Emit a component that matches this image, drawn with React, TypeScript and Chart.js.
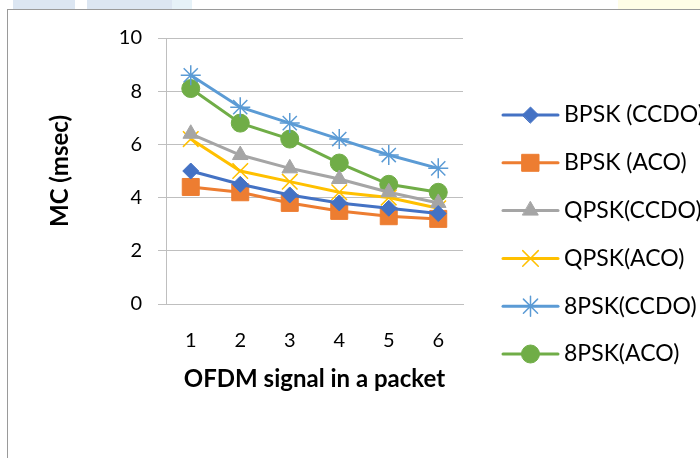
import React, { useEffect, useRef } from 'react';
import { Chart, registerables } from 'chart.js';
import { drawPoint } from 'chart.js/helpers';

Chart.register(...registerables);

const categories = ['1', '2', '3', '4', '5', '6'];
const seriesNames = ['BPSK (CCDO)', 'BPSK (ACO)', 'QPSK(CCDO)', 'QPSK(ACO)', '8PSK(CCDO)', '8PSK(ACO)'];
const bpskCcdo = [5.0, 4.5, 4.1, 3.8, 3.6, 3.4];
const bpskAco = [4.4, 4.2, 3.8, 3.5, 3.3, 3.2];
const qpskCcdo = [6.4, 5.6, 5.1, 4.7, 4.2, 3.8];
const qpskAco = [6.2, 5.0, 4.6, 4.2, 4.0, 3.6];
const psk8Ccdo = [8.6, 7.4, 6.8, 6.2, 5.6, 5.1];
const psk8Aco = [8.1, 6.8, 6.2, 5.3, 4.5, 4.2];
const yMin = 0;
const yMax = 10;
const yStep = 2;

const FONT = 'Lato, Carlito, Calibri, "Noto Sans", sans-serif';

const styles = [
  { color: '#4472C4', pointStyle: 'rectRot', radius: 8, bw: 1 },
  { color: '#ED7D31', pointStyle: 'rect', radius: 12, bw: 1 },
  { color: '#A5A5A5', pointStyle: 'triangle', radius: 9, bw: 1 },
  { color: '#FFC000', pointStyle: 'crossRot', radius: 11, bw: 1.5 },
  { color: '#5B9BD5', pointStyle: 'star', radius: 10, bw: 1.5 },
  { color: '#70AD47', pointStyle: 'circle', radius: 9, bw: 1 },
];

const seriesValues = [bpskCcdo, bpskAco, qpskCcdo, qpskAco, psk8Ccdo, psk8Aco];

const sideLegend = {
  id: 'sideLegend',
  afterDraw(chart: any) {
    const ctx = chart.ctx;
    const x0 = 503;
    const x1 = 558;
    const top = 115;
    const gap = 47.8;
    chart.data.datasets.forEach((ds: any, i: number) => {
      const y = top + i * gap;
      const st = styles[i];
      ctx.save();
      ctx.strokeStyle = st.color;
      ctx.lineWidth = 3;
      ctx.lineCap = 'round';
      ctx.beginPath();
      ctx.moveTo(x0, y);
      ctx.lineTo(x1, y);
      ctx.stroke();
      ctx.fillStyle = st.color;
      ctx.strokeStyle = st.color;
      ctx.lineWidth = st.bw;
      drawPoint(ctx, { pointStyle: st.pointStyle, radius: st.radius, rotation: 0, borderWidth: st.bw } as any, (x0 + x1) / 2, y);
      ctx.fillStyle = '#000';
      ctx.font = `23px ${FONT}`;
      ctx.textBaseline = 'middle';
      ctx.textAlign = 'left';
      ctx.fillText(ds.label, x1 + 6, y);
      ctx.restore();
    });
  },
};

export default function App() {
  const ref = useRef<HTMLCanvasElement | null>(null);

  useEffect(() => {
    if (!ref.current) return;
    const chart = new Chart(ref.current, {
      type: 'line',
      data: {
        labels: categories,
        datasets: seriesValues.map((vals, i) => ({
          label: seriesNames[i],
          data: vals,
          borderColor: styles[i].color,
          backgroundColor: styles[i].color,
          borderWidth: 3,
          pointStyle: styles[i].pointStyle as any,
          pointRadius: styles[i].radius,
          pointBorderWidth: styles[i].bw,
          pointBackgroundColor: styles[i].color,
          pointBorderColor: styles[i].color,
          tension: 0,
          fill: false,
        })),
      },
      options: {
        animation: false,
        responsive: false,
        maintainAspectRatio: false,
        layout: { padding: { left: 0, right: 237, top: 38, bottom: 64 } },
        plugins: {
          legend: { display: false },
          tooltip: { enabled: false },
        },
        scales: {
          x: {
            offset: true,
            grid: { display: false, drawTicks: false },
            border: { display: true, color: '#BFBFBF', width: 1 },
            ticks: { color: '#000', font: { family: FONT, size: 20, lineHeight: 1.2 }, padding: 25 },
            title: {
              display: true,
              text: 'OFDM signal in a packet',
              color: '#000',
              font: { family: FONT, size: 24, weight: 'bold', lineHeight: 1.2 },
              padding: { top: 0, bottom: 0 },
            },
            afterFit(scale: any) {
              scale.height = 90;
            },
          },
          y: {
            min: yMin,
            max: yMax,
            ticks: {
              stepSize: yStep,
              color: '#000',
              font: { family: FONT, size: 20, lineHeight: 1.2 },
              padding: 16,
            },
            grid: { color: '#BFBFBF', lineWidth: 1, drawTicks: true, tickLength: 8 },
            border: { display: true, color: '#BFBFBF', width: 1 },
            title: {
              display: true,
              text: 'MC (msec)',
              color: '#000',
              font: { family: FONT, size: 24, weight: 'bold', lineHeight: 1.2 },
              padding: { top: 46, bottom: 0 },
            },
            afterFit(scale: any) {
              scale.width = 166;
            },
          },
        },
      },
      plugins: [sideLegend],
    });
    return () => chart.destroy();
  }, []);

  return (
    <div style={{ position: 'absolute', left: 0, top: 0, width: 700, height: 458, background: '#fff', overflow: 'hidden' }}>
      <div style={{ position: 'absolute', left: 13, top: 0, width: 62, height: 9, background: '#DCE6F2' }} />
      <div style={{ position: 'absolute', left: 87, top: 0, width: 85, height: 9, background: '#DCE6F2' }} />
      <div style={{ position: 'absolute', left: 172, top: 0, width: 20, height: 9, background: '#E6F2F8' }} />
      <div style={{ position: 'absolute', left: 618, top: 0, width: 82, height: 9, background: '#FFFDE6' }} />
      <div style={{ position: 'absolute', left: 7, top: 9, width: 700, height: 460, borderLeft: '1px solid #9A9A9A', borderTop: '1px solid #9A9A9A' }} />
      <canvas ref={ref} width={700} height={458} style={{ position: 'absolute', left: 0, top: 0, width: 700, height: 458 }} />
    </div>
  );
}
